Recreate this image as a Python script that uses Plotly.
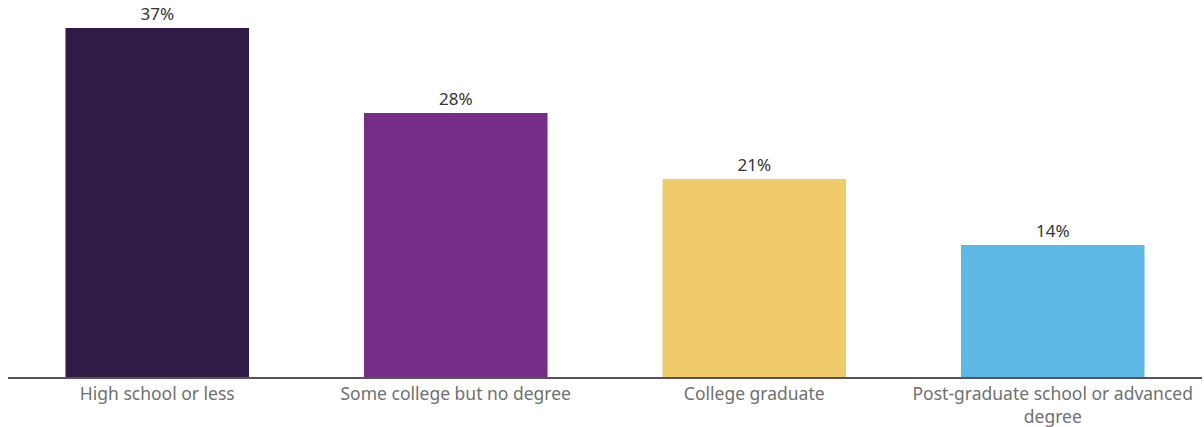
import plotly.graph_objects as go

categories = ["High school or less", "Some college but no degree", "College graduate",
              "Post-graduate school or advanced<br>degree"]
values = [37, 28, 21, 14]
colors = ["#2F1B45", "#752D88", "#EFCB6B", "#5EB8E5"]
labels = [f"{v}%" for v in values]

fig = go.Figure(go.Bar(
    x=categories,
    y=values,
    marker=dict(color=colors, line=dict(width=0)),
    text=labels,
    textposition="outside",
    textfont=dict(size=17, color="#333333", family="Noto Sans, sans-serif"),
    cliponaxis=False,
    width=0.615,
    hoverinfo="skip",
))

fig.update_layout(
    width=1204, height=427,
    margin=dict(l=8, r=2, t=28, b=50),
    paper_bgcolor="white", plot_bgcolor="white",
    showlegend=False,
    font=dict(family="Noto Sans, sans-serif"),
    xaxis=dict(
        showline=True, linecolor="#555555", linewidth=2,
        tickfont=dict(size=17.5, color="#707070"),
        ticks="", showgrid=False, range=[-0.5, 3.5],
        automargin=False,
    ),
    yaxis=dict(visible=False, range=[0, 37], showgrid=False, automargin=False),
)

fig.write_html("out.html")
